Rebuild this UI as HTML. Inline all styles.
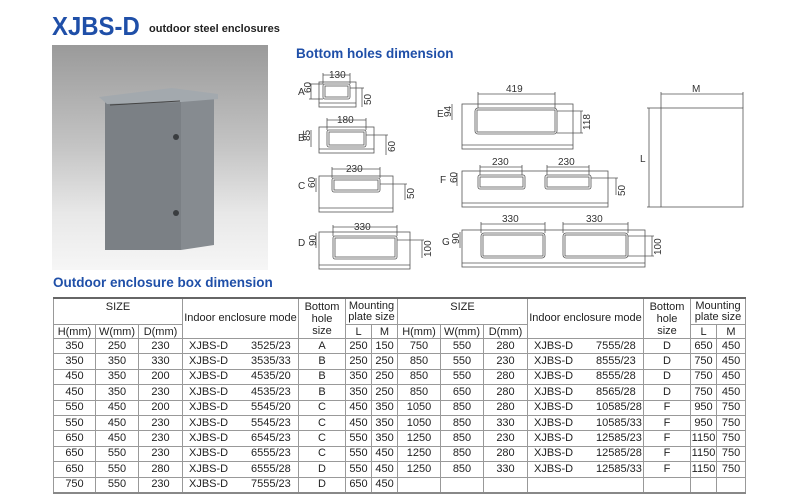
<!DOCTYPE html>
<html><head><meta charset="utf-8"><style>
body{margin:0;width:800px;height:498px;background:#fff;position:relative;overflow:hidden;font-family:"Liberation Sans",Arial,sans-serif}
.t{position:absolute;color:#1f4fa8;font-weight:bold;white-space:nowrap}
table{position:absolute;border-collapse:collapse;table-layout:fixed;font-size:11px;color:#222;top:297px}
td{border:1px solid #999;text-align:center;padding:0;height:14.4px;line-height:13px;white-space:nowrap;overflow:hidden}
tr.h1 td{height:25px}
tr.h2 td{height:13px;line-height:12px}
table{border-top:2px solid #666;border-bottom:2px solid #888}
.m{text-align:left;padding-left:6px}
.m span{display:inline-block;width:62px}
</style></head><body>
<div class="t" style="left:52px;top:11px;font-size:26px;transform:scaleX(0.92);transform-origin:left top">XJBS-D</div>
<div style="position:absolute;left:149px;top:23px;font-size:11px;font-weight:bold;color:#222">outdoor steel enclosures</div>
<div style="position:absolute;left:52px;top:45px;width:216px;height:225px;background:linear-gradient(#9a9a9a 0%,#c4c4c4 45%,#e8e8e8 75%,#f6f6f6 100%)"></div>
<svg style="position:absolute;left:52px;top:45px" width="216" height="225">
<rect x="53" y="55" width="76" height="150" fill="#7b8085"/>
<polygon points="129,55 162,52 162,200 129,205" fill="#868b90"/>
<polygon points="47,52 120,43 166,49 166,54 129,57 55,59" fill="#a3a9ae"/>
<line x1="58" y1="60" x2="128" y2="56" stroke="#444" stroke-width="1"/>
<circle cx="124" cy="92" r="3" fill="#3a3d40"/>
<circle cx="124" cy="168" r="3" fill="#3a3d40"/>
</svg>
<div class="t" style="left:296px;top:46px;font-size:13.5px">Bottom holes dimension</div>
<div class="t" style="left:53px;top:275px;font-size:13.5px">Outdoor enclosure box dimension</div>
<svg style="position:absolute;left:0;top:0" width="800" height="298" font-family="Liberation Sans,Arial,sans-serif" font-size="9" fill="none" stroke="#555" stroke-width="0.8">
<g>
<rect x="319" y="82" width="37" height="25"/><line x1="319" y1="103" x2="356" y2="103"/>
<rect x="323" y="84" width="27" height="15" rx="2"/><rect x="325" y="86" width="23" height="11"/>
<line x1="323" y1="75" x2="350" y2="75"/><line x1="323" y1="73" x2="323" y2="84"/><line x1="350" y1="73" x2="350" y2="84"/>
<line x1="350" y1="88" x2="364" y2="88"/><line x1="362" y1="88" x2="362" y2="107"/>
<line x1="311" y1="84" x2="311" y2="99"/><line x1="309" y1="84" x2="323" y2="84"/><line x1="309" y1="99" x2="323" y2="99"/>
<rect x="319" y="127" width="55" height="26"/><line x1="319" y1="149" x2="374" y2="149"/>
<rect x="327" y="130" width="39" height="17" rx="2"/><rect x="329" y="132" width="35" height="13"/>
<line x1="327" y1="120" x2="366" y2="120"/><line x1="327" y1="118" x2="327" y2="130"/><line x1="366" y1="118" x2="366" y2="130"/>
<line x1="366" y1="135" x2="388" y2="135"/><line x1="386" y1="135" x2="386" y2="155"/>
<line x1="311" y1="130" x2="311" y2="147"/>
<rect x="319" y="176" width="74" height="36"/><line x1="319" y1="208" x2="393" y2="208"/>
<rect x="332" y="178" width="48" height="14" rx="2"/><rect x="334" y="180" width="44" height="10"/>
<line x1="332" y1="169" x2="380" y2="169"/><line x1="332" y1="167" x2="332" y2="178"/><line x1="380" y1="167" x2="380" y2="178"/>
<line x1="380" y1="184" x2="407" y2="184"/><line x1="405" y1="184" x2="405" y2="200"/>
<line x1="316" y1="178" x2="316" y2="192"/>
<rect x="319" y="232" width="91" height="37"/><line x1="319" y1="265" x2="410" y2="265"/>
<rect x="333" y="236" width="64" height="23" rx="2"/><rect x="335" y="238" width="60" height="19"/>
<line x1="333" y1="227" x2="397" y2="227"/><line x1="333" y1="225" x2="333" y2="236"/><line x1="397" y1="225" x2="397" y2="236"/>
<line x1="397" y1="240" x2="424" y2="240"/><line x1="422" y1="240" x2="422" y2="258"/>
<line x1="316" y1="233" x2="316" y2="248"/>
<rect x="462" y="104" width="111" height="45"/><line x1="462" y1="145" x2="573" y2="145"/>
<rect x="475" y="108" width="82" height="26" rx="3"/><rect x="477" y="110" width="78" height="22"/>
<line x1="478" y1="94" x2="555" y2="94"/><line x1="478" y1="92" x2="478" y2="108"/><line x1="555" y1="92" x2="555" y2="108"/>
<line x1="557" y1="111" x2="583" y2="111"/><line x1="581" y1="111" x2="581" y2="133"/><line x1="557" y1="133" x2="583" y2="133"/>
<line x1="452" y1="104" x2="452" y2="120"/>
<rect x="462" y="171" width="146" height="36"/><line x1="462" y1="203" x2="608" y2="203"/>
<rect x="478" y="175" width="47" height="14" rx="2"/><rect x="480" y="177" width="43" height="10"/>
<rect x="545" y="175" width="46" height="14" rx="2"/><rect x="547" y="177" width="42" height="10"/>
<line x1="480" y1="167" x2="522" y2="167"/><line x1="547" y1="167" x2="589" y2="167"/>
<line x1="480" y1="165" x2="480" y2="175"/><line x1="522" y1="165" x2="522" y2="175"/><line x1="547" y1="165" x2="547" y2="175"/><line x1="589" y1="165" x2="589" y2="175"/>
<line x1="591" y1="178" x2="618" y2="178"/><line x1="616" y1="178" x2="616" y2="195"/>
<line x1="457" y1="173" x2="457" y2="186"/>
<rect x="462" y="230" width="183" height="37"/><line x1="462" y1="263" x2="645" y2="263"/>
<rect x="481" y="233" width="64" height="25" rx="3"/><rect x="483" y="235" width="60" height="21"/>
<rect x="563" y="233" width="65" height="25" rx="3"/><rect x="565" y="235" width="61" height="21"/>
<line x1="481" y1="224" x2="545" y2="224"/><line x1="563" y1="224" x2="628" y2="224"/>
<line x1="481" y1="222" x2="481" y2="233"/><line x1="545" y1="222" x2="545" y2="233"/><line x1="563" y1="222" x2="563" y2="233"/><line x1="628" y1="222" x2="628" y2="233"/>
<line x1="628" y1="236" x2="654" y2="236"/><line x1="652" y1="236" x2="652" y2="256"/><line x1="628" y1="256" x2="654" y2="256"/>
<line x1="460" y1="232" x2="460" y2="248"/>
<rect x="661" y="108" width="82" height="99"/>
<line x1="661" y1="94" x2="743" y2="94"/><line x1="661" y1="92" x2="661" y2="108"/><line x1="743" y1="92" x2="743" y2="108"/>
<line x1="649" y1="108" x2="649" y2="207"/><line x1="647" y1="108" x2="661" y2="108"/><line x1="647" y1="207" x2="661" y2="207"/>
</g>
<g fill="#333" stroke="none" font-size="10">
<text x="329" y="78">130</text><text x="337" y="123">180</text><text x="346" y="172">230</text><text x="354" y="230">330</text>
<text x="506" y="92">419</text><text x="492" y="165">230</text><text x="558" y="165">230</text><text x="502" y="222">330</text><text x="586" y="222">330</text>
<text x="692" y="92">M</text><text x="640" y="162">L</text>
<text x="298" y="95">A</text><text x="298" y="141">B</text><text x="298" y="189">C</text><text x="298" y="246">D</text><text x="437" y="117">E</text><text x="440" y="183">F</text><text x="442" y="245">G</text>
<text transform="translate(311,93) rotate(-90)">60</text>
<text transform="translate(310,141) rotate(-90)">85</text>
<text transform="translate(315,188) rotate(-90)">60</text>
<text transform="translate(316,246) rotate(-90)">90</text>
<text transform="translate(451,117) rotate(-90)">94</text>
<text transform="translate(457,183) rotate(-90)">60</text>
<text transform="translate(459,244) rotate(-90)">90</text>
<text transform="translate(371,105) rotate(-90)">50</text>
<text transform="translate(395,152) rotate(-90)">60</text>
<text transform="translate(414,199) rotate(-90)">50</text>
<text transform="translate(431,257) rotate(-90)">100</text>
<text transform="translate(590,130) rotate(-90)">118</text>
<text transform="translate(625,196) rotate(-90)">50</text>
<text transform="translate(661,255) rotate(-90)">100</text>
</g>
</svg>
<table style="left:53px;width:344px">
<colgroup><col style="width:42px"><col style="width:43px"><col style="width:44px"><col style="width:116px"><col style="width:47px"><col style="width:26px"><col style="width:26px"></colgroup>
<tr class="h1"><td colspan="3" style="vertical-align:top;line-height:16px">SIZE</td><td rowspan="2">Indoor enclosure mode</td><td rowspan="2" style="line-height:12px">Bottom<br>hole<br>size</td><td colspan="2" style="line-height:11px">Mounting<br>plate size</td></tr>
<tr class="h2"><td>H(mm)</td><td>W(mm)</td><td>D(mm)</td><td>L</td><td>M</td></tr>
<tr><td>350</td><td>250</td><td>230</td><td class="m"><span>XJBS-D</span>3525/23</td><td>A</td><td>250</td><td>150</td></tr>
<tr><td>350</td><td>350</td><td>330</td><td class="m"><span>XJBS-D</span>3535/33</td><td>B</td><td>250</td><td>250</td></tr>
<tr><td>450</td><td>350</td><td>200</td><td class="m"><span>XJBS-D</span>4535/20</td><td>B</td><td>350</td><td>250</td></tr>
<tr><td>450</td><td>350</td><td>230</td><td class="m"><span>XJBS-D</span>4535/23</td><td>B</td><td>350</td><td>250</td></tr>
<tr><td>550</td><td>450</td><td>200</td><td class="m"><span>XJBS-D</span>5545/20</td><td>C</td><td>450</td><td>350</td></tr>
<tr><td>550</td><td>450</td><td>230</td><td class="m"><span>XJBS-D</span>5545/23</td><td>C</td><td>450</td><td>350</td></tr>
<tr><td>650</td><td>450</td><td>230</td><td class="m"><span>XJBS-D</span>6545/23</td><td>C</td><td>550</td><td>350</td></tr>
<tr><td>650</td><td>550</td><td>230</td><td class="m"><span>XJBS-D</span>6555/23</td><td>C</td><td>550</td><td>450</td></tr>
<tr><td>650</td><td>550</td><td>280</td><td class="m"><span>XJBS-D</span>6555/28</td><td>D</td><td>550</td><td>450</td></tr>
<tr><td>750</td><td>550</td><td>230</td><td class="m"><span>XJBS-D</span>7555/23</td><td>D</td><td>650</td><td>450</td></tr>
</table>
<table style="left:397px;width:348px">
<colgroup><col style="width:43px"><col style="width:43px"><col style="width:44px"><col style="width:116px"><col style="width:47px"><col style="width:26px"><col style="width:29px"></colgroup>
<tr class="h1"><td colspan="3" style="vertical-align:top;line-height:16px">SIZE</td><td rowspan="2">Indoor enclosure mode</td><td rowspan="2" style="line-height:12px">Bottom<br>hole<br>size</td><td colspan="2" style="line-height:11px">Mounting<br>plate size</td></tr>
<tr class="h2"><td>H(mm)</td><td>W(mm)</td><td>D(mm)</td><td>L</td><td>M</td></tr>
<tr><td>750</td><td>550</td><td>280</td><td class="m"><span>XJBS-D</span>7555/28</td><td>D</td><td>650</td><td>450</td></tr>
<tr><td>850</td><td>550</td><td>230</td><td class="m"><span>XJBS-D</span>8555/23</td><td>D</td><td>750</td><td>450</td></tr>
<tr><td>850</td><td>550</td><td>280</td><td class="m"><span>XJBS-D</span>8555/28</td><td>D</td><td>750</td><td>450</td></tr>
<tr><td>850</td><td>650</td><td>280</td><td class="m"><span>XJBS-D</span>8565/28</td><td>D</td><td>750</td><td>450</td></tr>
<tr><td>1050</td><td>850</td><td>280</td><td class="m"><span>XJBS-D</span>10585/28</td><td>F</td><td>950</td><td>750</td></tr>
<tr><td>1050</td><td>850</td><td>330</td><td class="m"><span>XJBS-D</span>10585/33</td><td>F</td><td>950</td><td>750</td></tr>
<tr><td>1250</td><td>850</td><td>230</td><td class="m"><span>XJBS-D</span>12585/23</td><td>F</td><td>1150</td><td>750</td></tr>
<tr><td>1250</td><td>850</td><td>280</td><td class="m"><span>XJBS-D</span>12585/28</td><td>F</td><td>1150</td><td>750</td></tr>
<tr><td>1250</td><td>850</td><td>330</td><td class="m"><span>XJBS-D</span>12585/33</td><td>F</td><td>1150</td><td>750</td></tr>
<tr><td></td><td></td><td></td><td></td><td></td><td></td><td></td></tr>
</table>
</body></html>
